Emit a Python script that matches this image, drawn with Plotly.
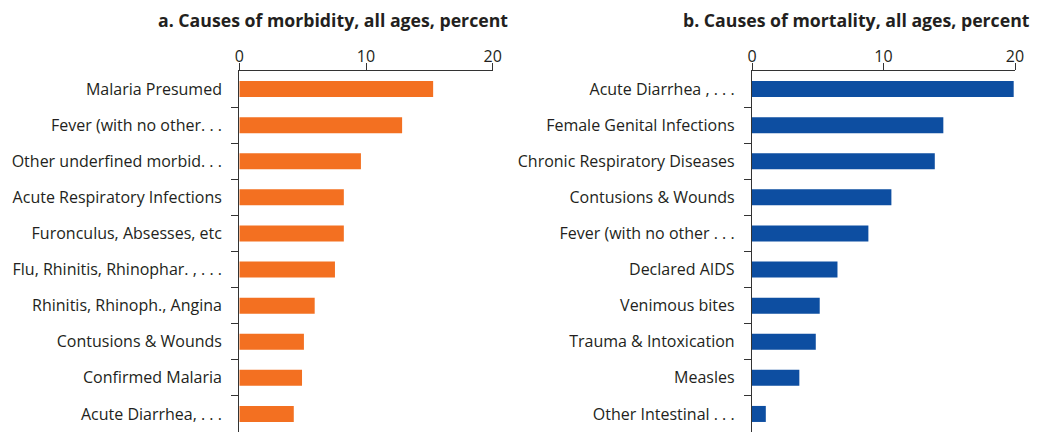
import plotly.graph_objects as go

morb_labels = ["Malaria Presumed", "Fever (with no other. . .", "Other underfined morbid. . .",
               "Acute Respiratory Infections", "Furonculus, Absesses, etc",
               "Flu, Rhinitis, Rhinophar. , . . .", "Rhinitis, Rhinoph., Angina",
               "Contusions & Wounds", "Confirmed Malaria", "Acute Diarrhea, . . ."]
morb_values = [15.3, 12.85, 9.6, 8.25, 8.25, 7.55, 5.95, 5.1, 4.95, 4.3]

mort_labels = ["Acute Diarrhea , . . .", "Female Genital Infections", "Chronic Respiratory Diseases",
               "Contusions & Wounds", "Fever (with no other . . .", "Declared AIDS",
               "Venimous bites", "Trauma & Intoxication", "Measles", "Other Intestinal . . ."]
mort_values = [19.9, 14.55, 13.9, 10.6, 8.85, 6.5, 5.15, 4.85, 3.6, 1.05]

ticks = [0, 10, 20]
W, H = 1038, 424   # page body adds an 8px margin
FONT = "Open Sans"
TXT = "#231f20"

n = len(morb_labels)
pos = list(range(n))
bounds = [i + 0.5 for i in range(n - 1)]

fig = go.Figure()
fig.add_trace(go.Bar(x=morb_values, y=pos, orientation="h", width=0.444,
                     marker=dict(color="#F37021", line=dict(width=0)),
                     xaxis="x", yaxis="y", hovertext=morb_labels, hoverinfo="x+text"))
fig.add_trace(go.Bar(x=mort_values, y=pos, orientation="h", width=0.444,
                     marker=dict(color="#0D4EA1", line=dict(width=0)),
                     xaxis="x2", yaxis="y2", hovertext=mort_labels, hoverinfo="x+text"))
# invisible placeholders so the category-boundary tick axes get drawn
fig.add_trace(go.Scatter(x=[0], y=[0], xaxis="x", yaxis="y3", hoverinfo="skip",
                         mode="markers", marker=dict(opacity=0)))
fig.add_trace(go.Scatter(x=[0], y=[0], xaxis="x2", yaxis="y4", hoverinfo="skip",
                         mode="markers", marker=dict(opacity=0)))

xcommon = dict(range=[0, 20], tickvals=ticks, side="top", showgrid=False, zeroline=False,
               showline=True, linecolor="#333333", linewidth=1.3, ticks="outside",
               ticklen=7, tickcolor="#333333", tickwidth=1.3, automargin=False,
               ticklabelstandoff=-6,
               tickfont=dict(family=FONT, size=16, color=TXT), fixedrange=True)
ycommon = dict(range=[n - 0.5, -0.5], tickvals=pos, showgrid=False, zeroline=False,
               showline=True, linecolor="#333333", linewidth=1.3, ticks="outside",
               ticklen=13, tickcolor="rgba(255,255,255,0)", tickwidth=1,
               automargin=False,
               tickfont=dict(family=FONT, size=16, color=TXT), fixedrange=True)
ybounds = dict(range=[n - 0.5, -0.5], tickvals=bounds, showgrid=False, zeroline=False,
               showline=False, ticks="outside", ticklen=7, tickcolor="#333333",
               tickwidth=1.3, showticklabels=False, automargin=False, fixedrange=True)

fig.update_layout(
    template="none",
    width=W, height=H,
    margin=dict(l=0, r=0, t=63, b=0, pad=0),
    paper_bgcolor="white", plot_bgcolor="white",
    showlegend=False,
    xaxis=dict(domain=[231.3 / W, 484.7 / W], anchor="y", **xcommon),
    yaxis=dict(domain=[0, 1], anchor="x", ticktext=morb_labels, **ycommon),
    xaxis2=dict(domain=[744 / W, 1007 / W], anchor="y2", **xcommon),
    yaxis2=dict(domain=[0, 1], anchor="x2", ticktext=mort_labels, **ycommon),
    yaxis3=dict(overlaying="y", anchor="x", side="left", **ybounds),
    yaxis4=dict(overlaying="y2", anchor="x2", side="left", **ybounds),
    annotations=[
        dict(text="<b>a. Causes of morbidity, all ages, percent</b>", x=502 / W, y=1,
             xref="paper", yref="paper", yanchor="bottom", xanchor="right", yshift=37,
             showarrow=False, font=dict(family=FONT, size=17.7, color=TXT)),
        dict(text="<b>b. Causes of mortality, all ages, percent</b>", x=1024 / W, y=1,
             xref="paper", yref="paper", yanchor="bottom", xanchor="right", yshift=37,
             showarrow=False, font=dict(family=FONT, size=17.7, color=TXT)),
    ],
)

fig.write_html("out.html")
